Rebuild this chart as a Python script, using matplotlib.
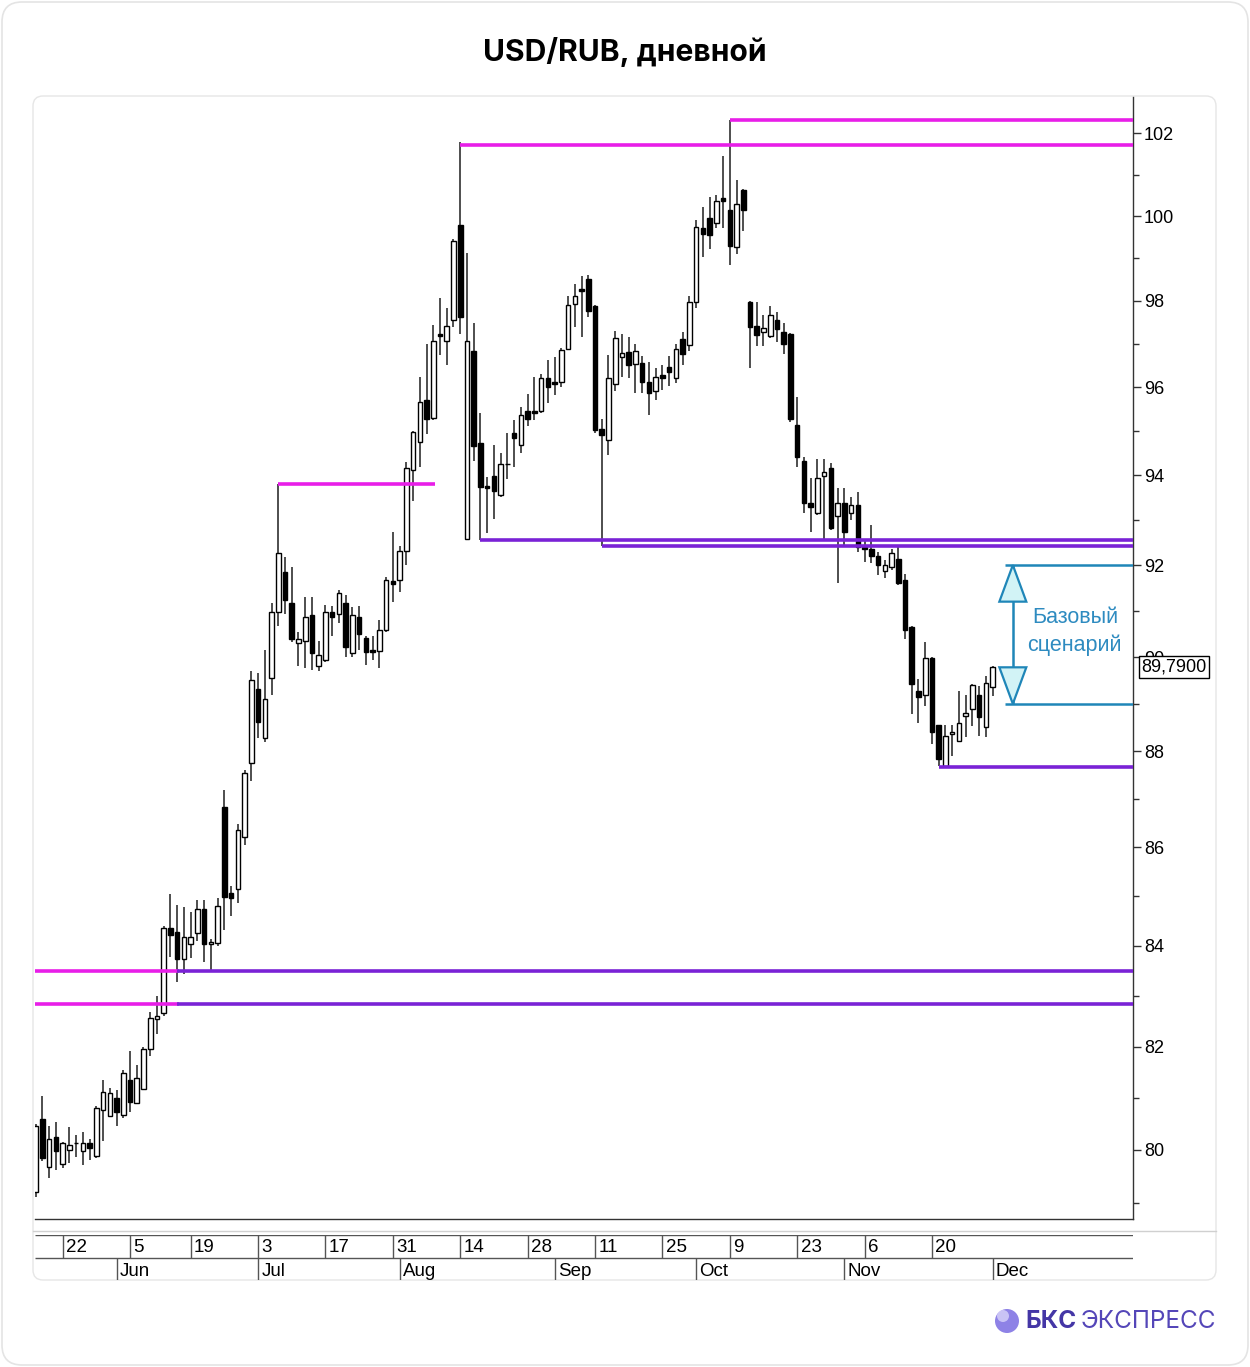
"""USD/RUB daily candlestick chart with support/resistance levels."""

import matplotlib
matplotlib.use("Agg")
import matplotlib.pyplot as plt
from matplotlib.patches import FancyBboxPatch, Polygon, Circle
from matplotlib.ticker import FixedLocator, NullFormatter
import matplotlib.transforms as mtransforms
import pandas as pd

W, H = 1250, 1367

# trading days (Russian holiday 12 Jun skipped)
dates = pd.bdate_range("2023-05-16", "2023-12-01", freq="C", holidays=["2023-06-12"])

opens = [
    79.20, 80.59, 79.68, 80.25, 79.73, 79.99, 80.13, 79.97, 80.13, 79.89,
    80.77, 80.65, 80.99, 80.67, 81.35, 80.91, 81.18, 81.95, 82.55, 82.66,
    84.36, 84.27, 83.73, 84.04, 84.26, 84.75, 84.03, 84.05, 86.84, 85.06,
    85.14, 86.21, 87.75, 89.32, 88.28, 89.55, 90.98, 91.85, 91.18, 90.31,
    90.34, 90.91, 89.81, 89.94, 90.98, 90.93, 91.18, 90.08, 90.87, 90.41,
    90.15, 90.14, 90.58, 91.65, 91.67, 92.32, 94.12, 94.74, 95.70, 95.30,
    97.23, 97.06, 97.55, 99.78, 92.58, 96.84, 94.73, 93.76, 93.98, 93.55,
    94.24, 94.95, 94.69, 95.46, 95.46, 95.46, 96.20, 96.12, 96.12, 96.87,
    97.93, 98.28, 98.50, 97.87, 95.05, 94.80, 96.07, 96.68, 96.81, 96.52,
    96.56, 96.12, 95.91, 96.27, 96.46, 96.20, 97.10, 96.98, 97.96, 99.71,
    99.95, 99.83, 100.43, 100.14, 99.26, 100.62, 97.98, 97.40, 97.26, 97.17,
    97.56, 97.26, 97.23, 95.13, 94.31, 93.38, 93.16, 93.98, 94.15, 93.08,
    93.37, 93.16, 93.33, 92.41, 92.36, 92.21, 91.87, 91.96, 92.14, 91.67,
    90.66, 89.28, 89.19, 89.97, 88.56, 87.68, 88.35, 88.22, 88.75, 88.90,
    89.19, 88.50, 89.36,
]
highs = [
    80.50, 81.03, 80.45, 80.54, 80.15, 80.44, 80.29, 80.35, 80.20, 80.85,
    81.35, 81.19, 81.16, 81.55, 81.91, 81.64, 82.00, 82.68, 83.00, 84.40,
    85.04, 84.82, 84.78, 84.68, 84.93, 84.92, 84.14, 84.97, 87.18, 85.20,
    86.49, 87.60, 89.71, 89.66, 90.15, 91.17, 93.81, 92.17, 91.95, 90.55,
    91.31, 91.31, 90.34, 91.13, 91.10, 91.45, 91.35, 91.09, 91.10, 90.45,
    90.45, 90.81, 91.73, 92.73, 92.42, 94.30, 95.00, 96.24, 97.00, 97.43,
    98.06, 97.82, 99.45, 101.78, 99.13, 97.48, 95.41, 93.96, 94.69, 94.49,
    94.94, 95.24, 95.54, 95.83, 96.24, 96.30, 96.62, 96.68, 96.90, 98.10,
    98.40, 98.57, 98.60, 97.90, 95.26, 96.74, 97.30, 97.22, 97.16, 97.00,
    96.71, 96.58, 96.43, 96.50, 96.71, 97.00, 97.28, 98.10, 99.90, 100.23,
    100.45, 100.51, 101.46, 102.33, 100.86, 100.66, 98.00, 97.96, 97.66, 97.87,
    97.74, 97.49, 97.25, 95.78, 94.41, 93.93, 94.37, 94.37, 94.28, 93.70,
    93.72, 93.50, 93.63, 92.58, 92.88, 92.28, 92.12, 92.36, 92.39, 91.81,
    90.68, 89.53, 90.33, 90.00, 88.56, 88.56, 88.56, 89.28, 89.19, 89.43,
    89.38, 89.60, 89.80,
]
lows = [
    79.10, 79.78, 79.46, 79.62, 79.65, 79.75, 79.87, 79.71, 79.81, 79.85,
    80.18, 80.63, 80.46, 80.62, 80.72, 80.88, 81.15, 81.81, 82.25, 82.60,
    83.78, 83.27, 83.43, 83.75, 84.10, 83.67, 83.50, 84.00, 84.32, 84.60,
    84.86, 86.04, 87.37, 88.28, 88.20, 89.19, 90.68, 90.93, 90.32, 89.81,
    89.77, 89.73, 89.70, 89.90, 90.46, 90.73, 90.00, 90.00, 90.15, 89.84,
    89.94, 89.77, 90.55, 91.20, 91.42, 92.00, 93.41, 94.19, 94.93, 95.25,
    96.74, 96.51, 97.38, 97.23, 92.58, 94.31, 92.55, 92.70, 93.02, 93.52,
    93.91, 94.19, 94.50, 95.10, 95.24, 95.40, 95.64, 95.82, 96.00, 96.85,
    97.38, 97.16, 97.63, 94.95, 92.43, 94.45, 95.90, 96.24, 96.20, 95.86,
    95.86, 95.35, 95.70, 95.93, 96.02, 96.10, 96.50, 96.82, 97.83, 99.04,
    99.21, 99.71, 99.71, 98.83, 99.09, 99.64, 96.43, 96.95, 96.95, 97.12,
    97.05, 96.76, 95.20, 94.19, 93.16, 92.72, 93.10, 92.58, 92.78, 91.60,
    92.43, 93.00, 92.28, 92.07, 92.05, 91.78, 91.71, 91.90, 91.56, 90.39,
    88.79, 88.60, 88.96, 88.16, 87.68, 87.65, 87.89, 88.20, 88.29, 88.53,
    88.32, 88.30, 89.16,
]
closes = [
    80.45, 79.84, 80.20, 79.97, 80.13, 80.10, 80.13, 80.13, 80.04, 80.81,
    81.12, 81.09, 80.73, 81.49, 80.93, 81.39, 81.95, 82.57, 82.60, 84.36,
    84.22, 83.73, 84.18, 84.18, 84.75, 84.04, 84.08, 84.80, 84.99, 84.97,
    86.35, 87.55, 89.51, 88.62, 89.11, 90.98, 92.26, 91.24, 90.39, 90.38,
    90.86, 90.08, 90.04, 90.98, 90.87, 91.38, 90.21, 90.91, 90.50, 90.10,
    90.10, 90.58, 91.68, 91.58, 92.32, 94.15, 94.98, 95.66, 95.26, 97.06,
    97.17, 97.40, 99.41, 97.63, 97.06, 94.65, 93.74, 93.72, 93.65, 94.26,
    94.24, 94.83, 95.35, 95.28, 95.41, 96.20, 96.01, 96.06, 96.85, 97.91,
    98.12, 98.22, 97.75, 95.02, 94.91, 96.20, 97.13, 96.79, 96.50, 96.84,
    96.12, 95.87, 96.22, 96.20, 96.35, 96.87, 96.77, 97.96, 99.75, 99.57,
    99.55, 100.37, 100.37, 99.28, 100.29, 100.16, 97.39, 97.19, 97.36, 97.66,
    97.35, 97.00, 95.28, 94.41, 93.37, 93.29, 93.93, 94.07, 92.82, 93.38,
    92.72, 93.33, 92.41, 92.36, 92.21, 92.00, 92.00, 92.26, 91.60, 90.58,
    89.42, 89.14, 89.97, 88.40, 87.83, 88.32, 88.40, 88.60, 88.80, 89.40,
    88.73, 89.45, 89.79,
]

# horizontal levels: (price, start date, end date or None, colour)
MAGENTA = "#E81EE8"
PURPLE = "#7A22D6"
level_lines = [
    (93.81, "2023-07-06", "2023-08-08", MAGENTA),
    (101.71, "2023-08-14", None, MAGENTA),
    (102.33, "2023-10-09", None, MAGENTA),
    (92.55, "2023-08-17", None, PURPLE),
    (92.43, "2023-09-12", None, PURPLE),
    (83.50, None, "2023-06-15", MAGENTA),
    (83.50, "2023-06-15", None, PURPLE),
    (82.84, None, "2023-06-15", MAGENTA),
    (82.84, "2023-06-15", None, PURPLE),
    (87.67, "2023-11-21", None, PURPLE),
]

scenario_top, scenario_bottom = 92.0, 89.0
last_price_label = "89,7900"

week_ticks = ["2023-05-22", "2023-06-05", "2023-06-19", "2023-07-03", "2023-07-17",
              "2023-07-31", "2023-08-14", "2023-08-28", "2023-09-11", "2023-09-25",
              "2023-10-09", "2023-10-23", "2023-11-06", "2023-11-20"]
month_ticks = ["2023-06-01", "2023-07-03", "2023-08-01", "2023-09-01",
               "2023-10-02", "2023-11-01", "2023-12-01"]

y_major = [80, 82, 84, 86, 88, 90, 92, 94, 96, 98, 100, 102]
y_minor = [79, 81, 83, 85, 87, 89, 91, 93, 95, 97, 99, 101]

NUMFONT = ["Liberation Sans", "DejaVu Sans"]


def idx(d):
    return dates.get_loc(pd.Timestamp(d))


def main():
    fig = plt.figure(figsize=(W / 100, H / 100), dpi=100)
    fig.patch.set_facecolor("white")

    px = fig.dpi_scale_trans  # inches
    # outer card and chart card
    fig.patches.append(FancyBboxPatch((2 / 100, 2 / 100), (W - 4) / 100, (H - 4) / 100,
                                      boxstyle="round,pad=0,rounding_size=0.2",
                                      transform=px, fc="white", ec="#E4E4E4", lw=1.2,
                                      zorder=-10))
    fig.patches.append(FancyBboxPatch((33 / 100, (H - 1280) / 100), (1216 - 33) / 100,
                                      (1280 - 96) / 100,
                                      boxstyle="round,pad=0,rounding_size=0.1",
                                      transform=px, fc="white", ec="#E6E6E6", lw=1.0,
                                      zorder=-9))

    ax = fig.add_axes([35 / W, 1 - 1219 / H, (1133 - 35) / W, (1219 - 97) / H])
    ax.set_facecolor("none")
    ax.set_yscale("log")
    x_left, x_right = -0.1, 162.83
    ax.set_xlim(x_left, x_right)
    ax.set_ylim(78.69, 102.89)

    x = list(range(len(dates)))
    up = [c >= o for o, c in zip(opens, closes)]
    bottoms = [min(o, c) for o, c in zip(opens, closes)]
    heights = [abs(c - o) for o, c in zip(opens, closes)]

    ax.vlines(x, lows, highs, color="#404040", lw=1.3, zorder=2)
    ax.bar(x, heights, bottom=bottoms, width=0.68,
           color=["white" if u else "black" for u in up],
           edgecolor="black", linewidth=1.0, zorder=3)

    for price, start, end, col in level_lines:
        xs = idx(start) if start else x_left
        xe = idx(end) + 0.3 if end else x_right
        ax.hlines(price, xs, xe, color=col, lw=2.6, zorder=4)

    # base scenario annotation
    BLUE = "#1F86B8"
    ax.hlines([scenario_top, scenario_bottom], 143.8, x_right, color=BLUE, lw=1.8, zorder=4)
    xa = 145.0
    ax.vlines(xa, scenario_bottom, scenario_top, color=BLUE, lw=1.8, zorder=4)
    tri_h_top = 91.2
    tri_h_bot = 89.78
    ax.add_patch(Polygon([(xa, scenario_top), (xa - 2.0, tri_h_top), (xa + 2.0, tri_h_top)],
                         closed=True, fc="#D2F3F6", ec=BLUE, lw=1.6, zorder=5))
    ax.add_patch(Polygon([(xa, scenario_bottom), (xa - 2.0, tri_h_bot), (xa + 2.0, tri_h_bot)],
                         closed=True, fc="#D2F3F6", ec=BLUE, lw=1.6, zorder=5))
    ax.text(154.2, 90.85, "Базовый", color="#2E8BC0", fontsize=15.5, ha="center",
            va="center", family=NUMFONT)
    ax.text(154.2, 90.25, "сценарий", color="#2E8BC0", fontsize=15.5, ha="center",
            va="center", family=NUMFONT)

    # axes styling
    for s in ["top", "left"]:
        ax.spines[s].set_visible(False)
    ax.spines["right"].set_color("#333333")
    ax.spines["bottom"].set_color("#333333")
    ax.spines["right"].set_linewidth(1.0)
    ax.spines["bottom"].set_linewidth(1.0)
    ax.set_xticks([])
    ax.yaxis.tick_right()
    ax.yaxis.set_major_locator(FixedLocator(y_major))
    ax.yaxis.set_minor_locator(FixedLocator(y_minor))
    ax.yaxis.set_minor_formatter(NullFormatter())
    ax.set_yticklabels([str(v) for v in y_major])
    ax.tick_params(axis="y", which="major", direction="out", length=6, width=1,
                   color="#333333", pad=2, labelsize=13)
    ax.tick_params(axis="y", which="minor", direction="out", length=4, width=1,
                   color="#333333")
    for lab in ax.get_yticklabels():
        lab.set_family(NUMFONT)

    # last price box (covers the "90" label, as in the source chart)
    tr = mtransforms.blended_transform_factory(ax.transAxes, ax.transData)
    ax.text(1.0075, 89.79, last_price_label, transform=tr, ha="left", va="center",
            fontsize=13, family=NUMFONT, zorder=10, clip_on=False,
            bbox=dict(boxstyle="square,pad=0.15", fc="white", ec="black", lw=1.0))

    # date axis
    fig.add_artist(plt.Line2D([33 / W, 1216 / W], [1 - 1231 / H, 1 - 1231 / H],
                              color="#D0D0D0", lw=1.0))
    dax = fig.add_axes([35 / W, 1 - 1280 / H, (1133 - 35) / W, (1280 - 1235) / H])
    dax.set_xlim(x_left, x_right)
    dax.set_ylim(0, 1)
    dax.axis("off")
    mid = (1280 - 1258) / 45
    dax.hlines([1.0, mid], x_left, x_right, color="#555555", lw=1.0)
    for d in week_ticks:
        i = idx(d)
        dax.vlines(i, mid, 1.0, color="#555555", lw=1.0)
        dax.text(i + 0.5, (1 + mid) / 2 - 0.02, str(pd.Timestamp(d).day), ha="left",
                 va="center", fontsize=13.5, family=NUMFONT)
    for d in month_ticks:
        i = idx(d)
        dax.vlines(i, 0, mid, color="#555555", lw=1.0)
        dax.text(i + 0.5, mid / 2 - 0.06, pd.Timestamp(d).strftime("%b"), ha="left",
                 va="center", fontsize=13.5, family=NUMFONT)

    # title
    fig.text(0.5, 1 - 52 / H, "USD/RUB, дневной", ha="center", va="center",
             fontsize=21.6, fontweight="bold", family=["Inter", "DejaVu Sans"])

    # logo
    fig.patches.append(Circle((1007 / 100, (H - 1321) / 100), 12 / 100, transform=px,
                              fc="#8E82E6", ec="none"))
    fig.patches.append(Circle((1003 / 100, (H - 1316) / 100), 6 / 100, transform=px,
                              fc="#D9D4FA", ec="none", alpha=0.8))
    fig.text(1025 / W, 1 - 1321 / H, "БКС", ha="left", va="center", fontsize=17.5,
             fontweight="bold", color="#4436A6", family=["Inter", "DejaVu Sans"])
    fig.text(1081 / W, 1 - 1321 / H, "ЭКСПРЕСС", ha="left", va="center", fontsize=17.5,
             color="#5446B8", family=["Inter", "DejaVu Sans"])

    fig.savefig("out.png", dpi=100)
    plt.close(fig)


if __name__ == "__main__":
    main()
